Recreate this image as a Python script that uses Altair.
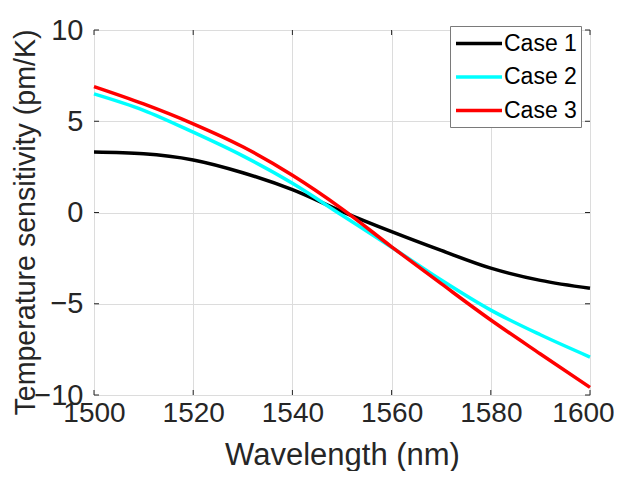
import altair as alt
import pandas as pd

wavelength = [1500, 1510, 1520, 1530, 1540, 1550, 1560, 1570, 1580, 1590, 1600]
case1 = [3.31, 3.22, 2.88, 2.18, 1.25, 0.05, -1.05, -2.08, -3.05, -3.72, -4.15]
case2 = [6.50, 5.60, 4.40, 3.10, 1.60, -0.15, -1.90, -3.70, -5.35, -6.70, -7.92]
case3 = [6.90, 5.95, 4.86, 3.60, 2.04, 0.20, -1.88, -3.90, -5.89, -7.75, -9.58]
series_names = ["Case 1", "Case 2", "Case 3"]
series_colors = ["#000000", "#00ffff", "#ff0000"]
x_ticks = [1500, 1520, 1540, 1560, 1580, 1600]
y_ticks = [-10, -5, 0, 5, 10]

rows = []
for name, vals in zip(series_names, [case1, case2, case3]):
    for w, v in zip(wavelength, vals):
        rows.append({"Wavelength": w, "Sensitivity": v, "Series": name})
df = pd.DataFrame(rows)

W, H = 496, 365
FONT = "Liberation Sans"
TXT = "#262626"

xscale = alt.Scale(domain=[1500, 1600], nice=False, zero=False)
yscale = alt.Scale(domain=[-10, 10], nice=False, zero=False)

lines = alt.Chart(df).mark_line(strokeWidth=3.5, interpolate="monotone").encode(
    x=alt.X("Wavelength:Q", scale=xscale,
            axis=alt.Axis(title="Wavelength (nm)", values=x_ticks, format="d",
                          grid=True, gridColor="#dcdcdc", ticks=False, tickSize=0,
                          domain=False, labelFontSize=28, titleFontSize=31,
                          labelFlush=False, labelOverlap=False, labelBound=False,
                          labelOffset={"condition": {"test": "datum.value == 1600", "value": -7},
                                       "value": 0},
                          labelColor=TXT, titleColor=TXT, labelFont=FONT, titleFont=FONT,
                          titleFontWeight="normal", labelPadding=4, titlePadding=13)),
    y=alt.Y("Sensitivity:Q", scale=yscale,
            axis=alt.Axis(title="Temperature sensitivity (pm/K)", values=y_ticks, format="d",
                          grid=True, gridColor="#dcdcdc", ticks=False, tickSize=0,
                          domain=False, labelFontSize=29, titleFontSize=28.6,
                          labelFlush=False, labelOverlap=False, labelBound=False,
                          labelColor=TXT, titleColor=TXT, labelFont=FONT, titleFont=FONT,
                          titleFontWeight="normal", labelPadding=11,
                          titleX=-54, titleY=192)),
    color=alt.Color("Series:N",
                    scale=alt.Scale(domain=series_names, range=series_colors),
                    legend=alt.Legend(title=None, orient="none", legendX=356, legendY=-4,
                                      symbolType="M-1,0H3", symbolSize=529,
                                      symbolStrokeWidth=3.5, labelFontSize=23,
                                      labelFont=FONT, labelColor="#000000",
                                      fillColor="#ffffff", strokeColor="#7a7a7a",
                                      padding=4, rowPadding=7.5, labelOffset=23,
                                      cornerRadius=0)),
    detail="Series:N",
)

xt = pd.DataFrame({"t": x_ticks})
yt = pd.DataFrame({"t": y_ticks})
tick_len = 5
xb = alt.Chart(xt).mark_rule(color=TXT, strokeWidth=1).encode(
    x=alt.X("t:Q", scale=xscale), y=alt.value(H), y2=alt.value(H - tick_len))
xtop = alt.Chart(xt).mark_rule(color=TXT, strokeWidth=1).encode(
    x=alt.X("t:Q", scale=xscale), y=alt.value(0), y2=alt.value(tick_len))
yl = alt.Chart(yt).mark_rule(color=TXT, strokeWidth=1).encode(
    y=alt.Y("t:Q", scale=yscale), x=alt.value(0), x2=alt.value(tick_len))
yr = alt.Chart(yt).mark_rule(color=TXT, strokeWidth=1).encode(
    y=alt.Y("t:Q", scale=yscale), x=alt.value(W), x2=alt.value(W - tick_len))

chart = alt.layer(lines, xb, xtop, yl, yr).properties(
    width=W, height=H,
    autosize=alt.AutoSizeParams(type="none"),
    padding={"left": 86, "top": 22, "right": 24, "bottom": 76},
).configure_view(stroke=TXT, strokeWidth=1.2).configure(background="#ffffff")

chart.save("out.html", embed_options={"renderer": "svg", "actions": False})
